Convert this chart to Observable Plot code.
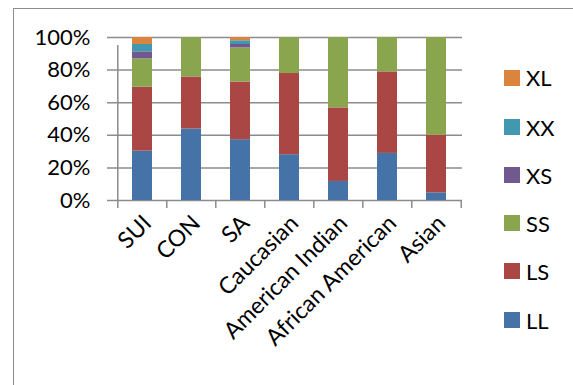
<!DOCTYPE html>
<html>
<head>
<meta charset="utf-8">
<script src="https://cdn.jsdelivr.net/npm/d3@7"></script>
<script src="https://cdn.jsdelivr.net/npm/@observablehq/plot@0.6"></script>
<style>
  html, body { margin: 0; padding: 0; background: #fff; }
  #wrap { position: relative; width: 573px; height: 385px; overflow: hidden; font-family: Lato, "Open Sans", sans-serif; }
  #border { position: absolute; left: 13px; top: 8px; width: 600px; height: 400px; border-left: 1.5px solid #8c8c8c; border-top: 1.5px solid #8c8c8c; }
  #chart { position: absolute; left: 0; top: 0; }
  #legend { position: absolute; left: 504px; top: 0; }
  .item { position: absolute; left: 0; display: flex; align-items: center; white-space: nowrap; font-size: 22px; color: #000; }
  .sw { width: 16px; height: 16px; margin-right: 6px; }
</style>
</head>
<body>
<div id="wrap">
  <div id="border"></div>
  <div id="chart"></div>
  <div id="legend"></div>
</div>
<script>
const categories = ["SUI", "CON", "SA", "Caucasian", "American Indian", "African American", "Asian"];
const genotypes = ["LL", "LS", "SS", "XS", "XX", "XL"];
const LL = [30.3, 43.9, 37.3, 28.1, 11.7, 28.9, 4.7];
const LS = [39.2, 31.9, 35.4, 49.8, 45.1, 50.0, 35.3];
const SS = [17.4, 24.2, 20.9, 22.1, 43.2, 21.1, 60.0];
const XS = [4.3, 0, 2.1, 0, 0, 0, 0];
const XX = [4.5, 0, 2.3, 0, 0, 0, 0];
const XL = [4.3, 0, 2.0, 0, 0, 0, 0];
const colors = ["#4572A7", "#AA4643", "#89A54E", "#71588F", "#4198AF", "#DB843D"];
const yTicks = [0, 20, 40, 60, 80, 100];
const legendOrder = ["XL", "XX", "XS", "SS", "LS", "LL"];

const series = {LL, LS, SS, XS, XX, XL};
const data = [];
genotypes.forEach(g => categories.forEach((c, i) => data.push({category: c, genotype: g, value: series[g][i]})));

const W = 573, H = 385, ML = 116, MR = 111, MT = 37, MB = 185;
const step = (W - ML - MR) / categories.length;
const gray = "#8c8c8c";

const chart = Plot.plot({
  width: W, height: H,
  marginLeft: ML, marginRight: MR, marginTop: MT, marginBottom: MB,
  style: {fontFamily: "Lato, 'Open Sans', sans-serif", fontSize: "22px", color: "#000", background: "transparent"},
  x: {domain: categories, paddingInner: 0.6, paddingOuter: 0.3, axis: null},
  y: {domain: [0, 100], axis: null},
  color: {domain: genotypes, range: colors},
  marks: [
    Plot.ruleY(yTicks, {y: d => d, stroke: gray, strokeWidth: 1.5, insetLeft: -9}),
    Plot.barY(data, {x: "category", y: "value", fill: "genotype", order: genotypes}),
    Plot.ruleX(categories.slice(0, 1), {x: d => d, dx: -step / 2, stroke: gray, strokeWidth: 1.5, y1: 0, y2: 100, insetBottom: -8}),
    Plot.ruleX(categories, {x: d => d, dx: -step / 2, y1: 0, y2: 0, insetBottom: -8, stroke: gray, strokeWidth: 1.5}),
    Plot.ruleX(categories.slice(-1), {x: d => d, dx: step / 2, y1: 0, y2: 0, insetBottom: -8, stroke: gray, strokeWidth: 1.5}),
    Plot.axisY({ticks: yTicks, tickSize: 0, tickPadding: 26, tickFormat: d => d + "%", fontSize: 22, label: null}),
    Plot.axisX({tickSize: 0, tickRotate: -45, tickPadding: 19, dx: 5, fontSize: 23, label: null})
  ]
});
document.getElementById("chart").appendChild(chart);

const legend = document.getElementById("legend");
const centers = [77.5, 127, 175, 223, 271, 320];
legendOrder.forEach((g, k) => {
  const item = document.createElement("div");
  item.className = "item";
  item.style.top = (centers[k] - 14) + "px";
  item.style.height = "28px";
  const sw = document.createElement("span");
  sw.className = "sw";
  sw.style.background = colors[genotypes.indexOf(g)];
  const t = document.createElement("span");
  t.textContent = g;
  item.appendChild(sw); item.appendChild(t);
  legend.appendChild(item);
});
</script>
</body>
</html>
